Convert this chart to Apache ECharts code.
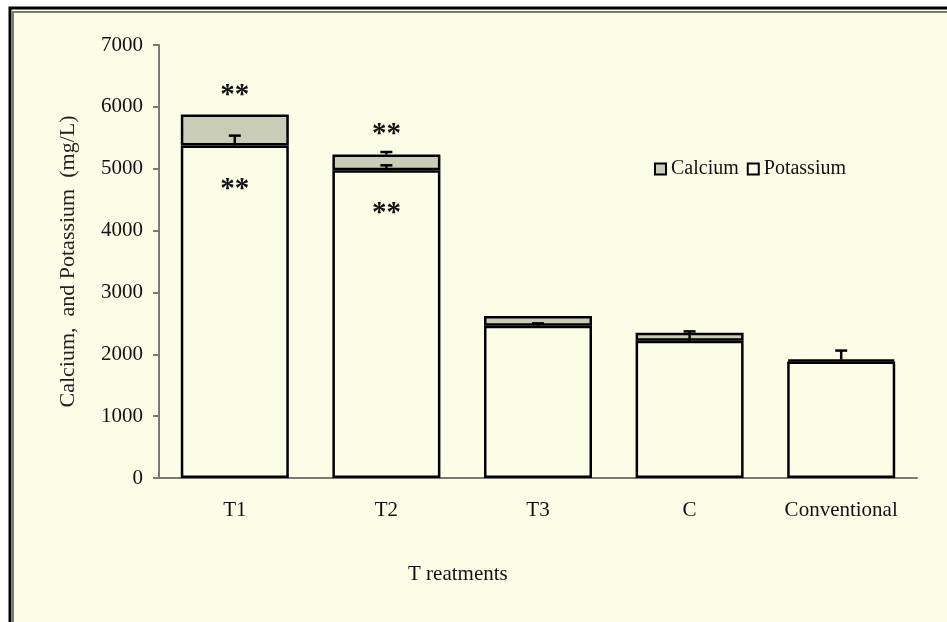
<!DOCTYPE html>
<html><head><meta charset="utf-8">
<script src="https://cdn.jsdelivr.net/npm/echarts@6/dist/echarts.min.js"></script>
<style>html,body{margin:0;padding:0;background:#fff}#c{width:947px;height:622px}</style>
</head><body><div id="c"></div>
<script>
const categories = ['T1', 'T2', 'T3', 'C', 'Conventional'];
const potassium = [5375, 4975, 2460, 2220, 1885];
const calcium = [500, 255, 160, 130, 30];
const potassiumErr = [160, 80, 40, 150, 0];
const calciumErr = [0, 40, 0, 0, 145];
const sigPotassium = ['**', '**', '', '', ''];
const sigCalcium = ['**', '**', '', '', ''];
const yTicks = [0, 1000, 2000, 3000, 4000, 5000, 6000, 7000];

const serif = '"Liberation Serif", "DejaVu Serif", serif';
const chart = echarts.init(document.getElementById('c'));

const kErrData = potassium.map((v, i) => [i, v, v + potassiumErr[i]]);
const cErrData = potassium.map((v, i) => [i, v + calcium[i], v + calcium[i] + calciumErr[i]]);

function errRender(params, api) {
  const i = api.value(0);
  const lo = api.coord([i, api.value(1)]);
  const hi = api.coord([i, api.value(2)]);
  if (Math.abs(lo[1] - hi[1]) < 0.5) return;
  const cap = 6;
  const st = { stroke: '#000', lineWidth: 2.5 };
  return {
    type: 'group',
    children: [
      { type: 'line', shape: { x1: lo[0], y1: lo[1], x2: hi[0], y2: hi[1] }, style: st },
      { type: 'line', shape: { x1: hi[0] - cap, y1: hi[1], x2: hi[0] + cap, y2: hi[1] }, style: st }
    ]
  };
}

chart.setOption({
  backgroundColor: '#ffffff',
  animation: false,
  graphic: [
    { type: 'rect', shape: { x: 10, y: 8, width: 1200, height: 900 }, style: { fill: '#FBFDE6', stroke: '#000', lineWidth: 3 }, z: -10 },
    { type: 'polyline', shape: { points: [[13, 900], [13, 12], [1200, 12]] }, style: { fill: null, stroke: '#7a7a72', lineWidth: 2 }, z: -9 },
    { type: 'text', left: 408, top: 564, style: { text: 'T reatments', font: '21px ' + serif, fill: '#111' } }
  ],
  grid: { left: 159, right: 30, top: 45, bottom: 144 },
  legend: {
    left: 649, top: 154, icon: 'rect',
    itemWidth: 11, itemHeight: 11, itemGap: 8,
    textStyle: { fontFamily: serif, fontSize: 20, color: '#111' },
    itemStyle: { borderColor: '#000', borderWidth: 2 },
    data: ['Calcium', 'Potassium']
  },
  xAxis: {
    type: 'category', data: categories,
    axisLine: { lineStyle: { color: '#7a7a72', width: 2 } },
    axisTick: { show: false },
    axisLabel: { fontFamily: serif, fontSize: 21, color: '#111', margin: 22 }
  },
  yAxis: {
    type: 'value', min: yTicks[0], max: yTicks[yTicks.length - 1], interval: 1000,
    name: 'Calcium,  and Potassium  (mg/L)', nameLocation: 'middle', nameGap: 80,
    nameTextStyle: { fontFamily: serif, fontSize: 22, color: '#222' },
    axisLine: { show: true, lineStyle: { color: '#7a7a72', width: 2 } },
    axisTick: { show: true, length: 6, lineStyle: { color: '#7a7a72', width: 2 } },
    splitLine: { show: false },
    axisLabel: { fontFamily: serif, fontSize: 21, color: '#111', margin: 16, formatter: v => String(v) }
  },
  series: [
    {
      name: 'Potassium', type: 'bar', stack: 'a', barWidth: 108,
      data: potassium,
      itemStyle: { color: '#FBFDE6', borderColor: '#000', borderWidth: 2.5 },
      label: {
        show: true, position: 'insideTop', distance: 29,
        formatter: p => sigPotassium[p.dataIndex],
        fontFamily: serif, fontSize: 29, fontWeight: 'bold', color: '#111'
      },
      z: 2
    },
    {
      name: 'Calcium', type: 'bar', stack: 'a', barWidth: 108,
      data: calcium,
      itemStyle: { color: '#C9CCB7', borderColor: '#000', borderWidth: 2.5 },
      label: {
        show: true, position: 'top', distance: 5,
        formatter: p => sigCalcium[p.dataIndex],
        fontFamily: serif, fontSize: 29, fontWeight: 'bold', color: '#111'
      },
      z: 2
    },
    { type: 'custom', renderItem: errRender, data: kErrData, z: 5, silent: true },
    { type: 'custom', renderItem: errRender, data: cErrData, z: 5, silent: true }
  ]
});
</script></body></html>
